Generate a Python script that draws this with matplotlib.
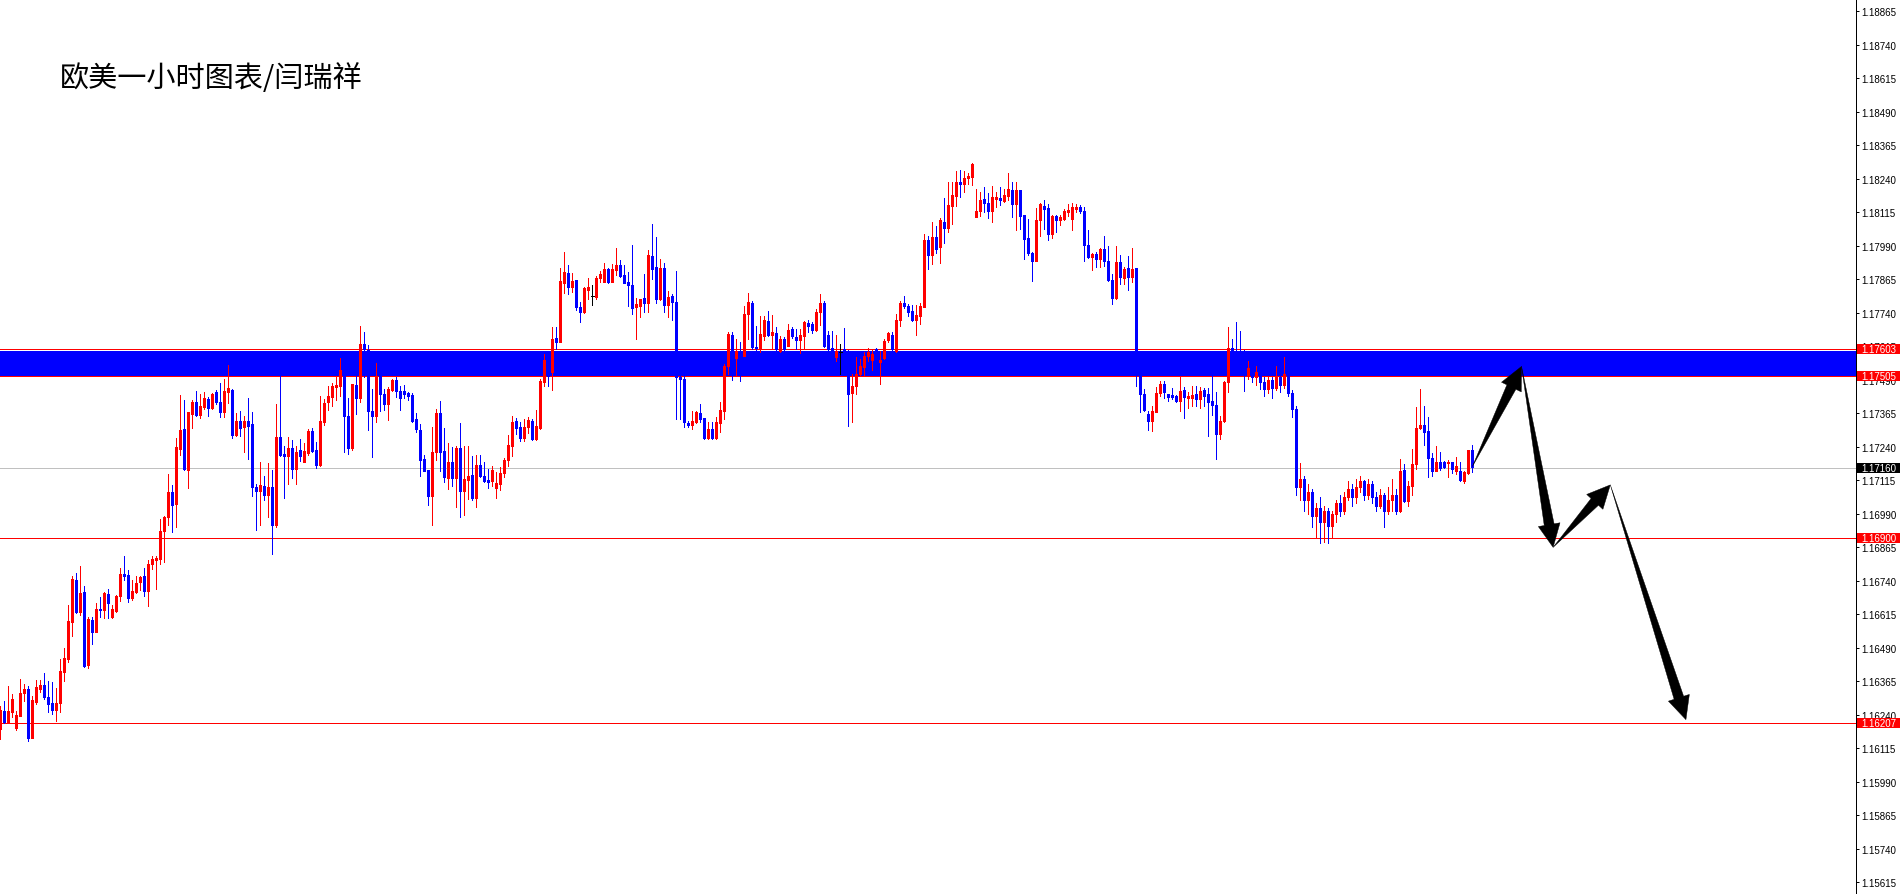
import numpy as np
import matplotlib
matplotlib.use("Agg")
import matplotlib.pyplot as plt
from matplotlib.patches import Polygon, Rectangle
from matplotlib.transforms import IdentityTransform

# EURUSD H1 candles, prices given in points (1e-5) above 1.16000
BASE = 1.16
open_pts = [
    186, 254, 213, 251, 191, 236, 320, 335, 152, 288,
    335, 350, 307, 283, 258, 283, 400, 447, 586, 742,
    624, 696, 425, 593, 549, 634, 631, 690, 605, 625,
    683, 764, 761, 675, 698, 736, 756, 702, 802, 818,
    820, 924, 976, 1069, 1026, 1231, 1306, 1154, 1362, 1405,
    1358, 1386, 1417, 1383, 1442, 1405, 1370, 1442, 1452, 1283,
    1334, 1314, 1334, 1324, 1088, 1075, 1092, 1061, 1088, 947,
    1277, 1212, 1206, 1235, 1156, 1227, 1184, 1215, 1297, 1227,
    1172, 1333, 1407, 1426, 1463, 1467, 1526, 1353, 1235, 1470,
    1421, 1623, 1600, 1374, 1355, 1504, 1436, 1399, 1451, 1488,
    1449, 1446, 1440, 1432, 1343, 1302, 1194, 1153, 1057, 1221,
    1365, 1222, 1121, 1181, 1121, 1235, 1075, 1116, 1134, 1047,
    1171, 1131, 1115, 1113, 1085, 1100, 1140, 1190, 1243, 1334,
    1312, 1272, 1312, 1336, 1268, 1309, 1482, 1563, 1517, 1644,
    1631, 1849, 1888, 1836, 1861, 1762, 1741, 1825, 1800, 1799,
    1869, 1855, 1902, 1855, 1900, 1917, 1880, 1855, 1843, 1759,
    1766, 1794, 1774, 1950, 1909, 1791, 1906, 1769, 1800, 1778,
    1498, 1492, 1328, 1322, 1333, 1364, 1345, 1271, 1305, 1271,
    1328, 1374, 1542, 1656, 1569, 1598, 1579, 1735, 1776, 1613,
    1608, 1654, 1710, 1656, 1664, 1595, 1641, 1616, 1679, 1650,
    1639, 1654, 1701, 1697, 1676, 1741, 1776, 1656, 1606, 1575,
    1591, 1604, 1598, 1440, 1465, 1511, 1536, 1576, 1564, 1604,
    1557, 1569, 1637, 1657, 1595, 1712, 1776, 1766, 1744, 1713,
    1728, 1762, 2012, 1955, 2021, 1983, 2077, 2055, 2139, 2176,
    2226, 2220, 2242, 2247, 2095, 2120, 2164, 2149, 2120, 2164,
    2167, 2157, 2176, 2197, 2145, 2197, 2104, 2017, 1961, 1934,
    2086, 2139, 2129, 2033, 2101, 2086, 2089, 2116, 2089, 2126,
    2133, 2120, 1992, 1946, 1958, 1940, 1977, 1934, 1861, 1794,
    1927, 1868, 1906, 1874, 1906, 1504, 1436, 1361, 1337, 1370,
    1438, 1473, 1436, 1432, 1430, 1411, 1452, 1420, 1420, 1436,
    1417, 1452, 1436, 1411, 1395, 1287, 1334, 1480, 1606, 1590,
    1585, 1570, 1504, 1532, 1500, 1520, 1480, 1455, 1490, 1460,
    1500, 1470, 1510, 1440, 1380, 1090, 1120, 1040, 1070, 980,
    1010, 960, 1000, 945, 990, 1030, 1000, 1050, 1080, 1050,
    1090, 1110, 1060, 1100, 1050, 1020, 1060, 1000, 1040, 1060,
    1001, 1153, 1038, 1094, 1175, 1308, 1320, 1297, 1196, 1150,
    1184, 1181, 1179, 1181, 1150, 1150, 1113, 1141, 1228,
]
high_pts = [
    273, 292, 348, 317, 254, 373, 354, 345, 310, 370,
    370, 395, 366, 363, 341, 447, 487, 649, 758, 770,
    795, 721, 605, 603, 656, 677, 698, 708, 650, 687,
    787, 833, 779, 743, 758, 758, 787, 817, 830, 833,
    970, 980, 1138, 1097, 1271, 1432, 1414, 1370, 1414, 1447,
    1436, 1442, 1425, 1440, 1451, 1477, 1492, 1544, 1455, 1364,
    1374, 1353, 1421, 1370, 1100, 1181, 1131, 1179, 1154, 1399,
    1505, 1243, 1277, 1264, 1241, 1268, 1252, 1306, 1309, 1256,
    1427, 1417, 1467, 1477, 1504, 1570, 1540, 1421, 1473, 1504,
    1691, 1669, 1620, 1455, 1552, 1510, 1455, 1461, 1492, 1501,
    1467, 1470, 1445, 1440, 1364, 1324, 1208, 1153, 1312, 1380,
    1409, 1309, 1252, 1239, 1241, 1328, 1241, 1241, 1204, 1210,
    1208, 1184, 1156, 1169, 1144, 1165, 1196, 1283, 1353, 1345,
    1330, 1343, 1349, 1343, 1378, 1492, 1585, 1570, 1685, 1685,
    1906, 1967, 1917, 1888, 1861, 1781, 1837, 1869, 1843, 1878,
    1896, 1925, 1906, 1921, 1980, 1936, 1919, 1890, 1992, 1793,
    1791, 1884, 1973, 2070, 2021, 1940, 1924, 1820, 1809, 1896,
    1507, 1504, 1336, 1371, 1374, 1399, 1345, 1333, 1333, 1349,
    1407, 1548, 1666, 1666, 1641, 1629, 1766, 1813, 1784, 1691,
    1728, 1728, 1747, 1731, 1685, 1651, 1647, 1697, 1685, 1679,
    1679, 1710, 1712, 1703, 1753, 1809, 1784, 1672, 1672, 1656,
    1623, 1682, 1600, 1511, 1573, 1567, 1594, 1606, 1600, 1606,
    1598, 1641, 1669, 1669, 1735, 1784, 1803, 1772, 1769, 1768,
    1776, 2033, 2024, 2079, 2062, 2093, 2166, 2228, 2228, 2269,
    2273, 2269, 2261, 2298, 2201, 2191, 2210, 2185, 2211, 2188,
    2207, 2201, 2261, 2226, 2228, 2197, 2104, 2089, 1965, 2129,
    2149, 2160, 2145, 2105, 2104, 2105, 2126, 2145, 2147, 2145,
    2141, 2133, 2048, 1962, 1967, 1981, 2024, 1989, 1884, 1987,
    1955, 1909, 1952, 1981, 1906, 1523, 1455, 1374, 1392, 1461,
    1486, 1486, 1436, 1457, 1432, 1504, 1461, 1442, 1465, 1465,
    1463, 1457, 1457, 1504, 1445, 1355, 1486, 1685, 1641, 1704,
    1672, 1600, 1561, 1545, 1540, 1530, 1500, 1505, 1500, 1540,
    1510, 1575, 1515, 1450, 1390, 1180, 1130, 1100, 1080, 1030,
    1050, 1020, 1010, 1000, 1040, 1060, 1070, 1110, 1100, 1120,
    1130, 1115, 1120, 1110, 1070, 1080, 1065, 1090, 1120, 1080,
    1194, 1175, 1113, 1231, 1386, 1455, 1393, 1349, 1216, 1241,
    1218, 1187, 1190, 1184, 1202, 1184, 1150, 1228, 1246,
]
low_pts = [
    149, 207, 211, 230, 184, 233, 292, 142, 152, 279,
    325, 300, 251, 242, 217, 248, 366, 435, 532, 619,
    613, 419, 414, 503, 547, 603, 601, 600, 600, 621,
    662, 743, 661, 669, 693, 706, 684, 644, 783, 709,
    802, 808, 947, 922, 941, 1208, 1154, 1085, 1310, 1353,
    1347, 1380, 1355, 1380, 1399, 1352, 1352, 1403, 1271, 1281,
    1281, 1221, 1194, 1054, 929, 947, 1041, 979, 839, 941,
    1206, 1048, 1100, 1121, 1100, 1185, 1181, 1210, 1218, 1160,
    1167, 1320, 1376, 1393, 1414, 1430, 1221, 1212, 1227, 1361,
    1405, 1501, 1302, 1202, 1330, 1374, 1376, 1340, 1449, 1424,
    1376, 1421, 1415, 1330, 1293, 1131, 1150, 1023, 948, 1191,
    1150, 1107, 1082, 1094, 1016, 976, 986, 1044, 1042, 1013,
    1125, 1109, 1085, 1094, 1047, 1078, 1125, 1169, 1204, 1287,
    1262, 1259, 1290, 1266, 1266, 1305, 1467, 1467, 1452, 1604,
    1629, 1812, 1809, 1818, 1751, 1706, 1738, 1791, 1769, 1791,
    1855, 1853, 1850, 1853, 1880, 1874, 1850, 1766, 1735, 1641,
    1722, 1741, 1743, 1865, 1774, 1787, 1741, 1722, 1713, 1343,
    1343, 1312, 1312, 1305, 1328, 1330, 1268, 1268, 1268, 1268,
    1293, 1343, 1511, 1490, 1507, 1486, 1579, 1641, 1604, 1598,
    1592, 1637, 1651, 1604, 1598, 1591, 1598, 1614, 1644, 1604,
    1588, 1604, 1666, 1664, 1672, 1695, 1613, 1598, 1594, 1560,
    1511, 1589, 1318, 1333, 1436, 1507, 1507, 1560, 1527, 1589,
    1473, 1567, 1629, 1600, 1594, 1691, 1756, 1728, 1710, 1657,
    1697, 1762, 1902, 1921, 1962, 1925, 1999, 2039, 2070, 2136,
    2172, 2191, 2220, 2217, 2095, 2101, 2114, 2093, 2077, 2133,
    2141, 2154, 2161, 2095, 2048, 2052, 1940, 1955, 1859, 1934,
    2024, 2052, 2012, 2017, 2039, 2067, 2086, 2101, 2048, 2114,
    2110, 1934, 1942, 1900, 1909, 1911, 1915, 1859, 1772, 1790,
    1846, 1846, 1825, 1853, 1467, 1368, 1374, 1303, 1299, 1368,
    1430, 1420, 1409, 1417, 1405, 1374, 1345, 1383, 1392, 1390,
    1383, 1392, 1281, 1358, 1193, 1268, 1330, 1442, 1560, 1560,
    1540, 1449, 1492, 1480, 1470, 1455, 1430, 1440, 1420, 1450,
    1445, 1460, 1430, 1350, 1060, 1040, 1000, 990, 940, 900,
    880, 885, 880, 900, 960, 980, 990, 1040, 1020, 1030,
    1070, 1040, 1045, 1030, 1000, 1010, 940, 990, 1000, 990,
    997, 1032, 1017, 1060, 1156, 1306, 1246, 1128, 1131, 1148,
    1153, 1159, 1125, 1140, 1138, 1113, 1104, 1138, 1146,
]
close_pts = [
    257, 211, 254, 298, 238, 320, 335, 152, 294, 344,
    350, 304, 279, 258, 285, 404, 450, 590, 746, 621,
    694, 422, 596, 549, 634, 630, 694, 656, 634, 683,
    764, 758, 675, 700, 731, 754, 702, 802, 820, 823,
    926, 976, 1069, 1023, 1237, 1302, 1156, 1368, 1405, 1358,
    1390, 1421, 1383, 1436, 1408, 1370, 1446, 1457, 1284, 1334,
    1309, 1334, 1318, 1090, 1075, 1097, 1061, 1088, 947, 1277,
    1210, 1206, 1235, 1156, 1218, 1204, 1222, 1299, 1222, 1171,
    1334, 1403, 1427, 1465, 1470, 1526, 1355, 1235, 1473, 1421,
    1623, 1604, 1374, 1355, 1504, 1436, 1399, 1455, 1490, 1449,
    1420, 1436, 1430, 1337, 1306, 1191, 1150, 1054, 1218, 1365,
    1221, 1128, 1181, 1121, 1233, 1075, 1119, 1131, 1048, 1171,
    1129, 1113, 1109, 1152, 1103, 1141, 1191, 1246, 1330, 1309,
    1272, 1312, 1339, 1268, 1315, 1486, 1563, 1504, 1641, 1629,
    1859, 1892, 1836, 1859, 1762, 1741, 1832, 1837, 1800, 1869,
    1884, 1902, 1855, 1902, 1917, 1878, 1850, 1844, 1757, 1772,
    1791, 1774, 1955, 1902, 1791, 1906, 1768, 1799, 1778, 1498,
    1492, 1333, 1320, 1336, 1368, 1343, 1271, 1305, 1271, 1333,
    1376, 1542, 1660, 1598, 1598, 1592, 1735, 1781, 1610, 1608,
    1660, 1712, 1656, 1669, 1604, 1641, 1604, 1675, 1651, 1639,
    1656, 1703, 1691, 1676, 1743, 1776, 1616, 1604, 1600, 1598,
    1591, 1598, 1436, 1465, 1511, 1539, 1576, 1591, 1585, 1598,
    1564, 1632, 1664, 1604, 1712, 1776, 1763, 1741, 1713, 1731,
    1763, 2012, 1955, 2021, 1977, 2086, 2055, 2141, 2179, 2226,
    2220, 2241, 2251, 2294, 2120, 2160, 2149, 2120, 2170, 2170,
    2161, 2179, 2201, 2145, 2197, 2101, 2014, 1961, 1934, 2086,
    2145, 2126, 2033, 2101, 2086, 2095, 2120, 2123, 2133, 2133,
    2120, 1992, 1946, 1958, 1940, 1977, 1934, 1861, 1794, 1927,
    1871, 1902, 1871, 1902, 1554, 1436, 1376, 1337, 1371, 1440,
    1473, 1442, 1424, 1426, 1411, 1446, 1424, 1427, 1432, 1417,
    1448, 1430, 1407, 1395, 1287, 1337, 1480, 1606, 1590, 1585,
    1570, 1545, 1532, 1500, 1520, 1480, 1455, 1490, 1460, 1500,
    1470, 1510, 1440, 1380, 1090, 1120, 1040, 1070, 980, 1010,
    960, 1000, 945, 990, 1030, 1000, 1050, 1080, 1050, 1090,
    1110, 1060, 1100, 1050, 1020, 1060, 1000, 1040, 1060, 1000,
    1150, 1038, 1094, 1175, 1309, 1320, 1293, 1196, 1150, 1181,
    1160, 1162, 1181, 1156, 1169, 1116, 1144, 1228, 1162,
]

# horizontal levels drawn on the chart
zone_top = 1.17603
zone_bottom = 1.17505
support_lines = [1.16900, 1.16207]
bid_price = 1.17160

# projected path (candle index, price)
path_x = [368.0, 380.3, 388.2, 402.5, 421.4]
path_y = [1.17165, 1.17539, 1.16864, 1.17097, 1.16221]

# right axis
tick_values = [1.15615, 1.15740, 1.15865, 1.15990, 1.16115, 1.16240, 1.16365,
               1.16490, 1.16615, 1.16740, 1.16865, 1.16990, 1.17115, 1.17240,
               1.17365, 1.17490, 1.17615, 1.17740, 1.17865, 1.17990, 1.18115,
               1.18240, 1.18365, 1.18490, 1.18615, 1.18740, 1.18865]
price_tags = [(1.17603, "1.17603", "#ff0000"), (1.17505, "1.17505", "#ff0000"),
              (1.17160, "1.17160", "#000000"), (1.16900, "1.16900", "#ff0000"),
              (1.16207, "1.16207", "#ff0000")]
title = "欧美一小时图表/闫瑞祥"

plt.rcParams['font.family'] = ['Liberation Sans', 'DejaVu Sans']

W, H = 1903, 895
AX_W = 1856
PX = 72 / 100  # one pixel in points
LBL = 7.0

fig = plt.figure(figsize=(W / 100, H / 100), dpi=100)
fig.patch.set_facecolor('white')
ax = fig.add_axes([0, 0, AX_W / W, 1])
ax.set_xlim(-0.0825, -0.0825 + AX_W / 4)
ax.set_ylim(1.155706, 1.189098)
one_px = (1.189098 - 1.155706) / H

o = BASE + np.array(open_pts) / 1e5
h = BASE + np.array(high_pts) / 1e5
l = BASE + np.array(low_pts) / 1e5
c = BASE + np.array(close_pts) / 1e5
x = np.arange(len(o))

# zone + levels
ax.axhspan(zone_bottom, zone_top - 1.5 * one_px, color='#0000ff', lw=0, zorder=1)
for lv in [zone_top, zone_bottom] + support_lines:
    ax.axhline(lv, color='#ff0000', lw=PX, antialiased=False, zorder=2)
ax.axhline(bid_price, color='#c0c0c0', lw=PX, antialiased=False, zorder=1.5)

# candles
up = c > o
dn = c < o
eq = c == o
for mask, col in [(up, '#ff0000'), (dn, '#0000ff'), (eq, '#000000')]:
    ax.vlines(x[mask], l[mask], h[mask], color=col, lw=PX, antialiased=False, zorder=4)
    bot = np.minimum(o[mask], c[mask])
    top = np.maximum(np.maximum(o[mask], c[mask]), bot + one_px)
    if col != '#000000':
        ax.vlines(x[mask], bot, top, color=col, lw=3 * PX, antialiased=False, zorder=4)
ax.hlines(o[eq], x[eq] - 0.4, x[eq] + 0.4, color='black', lw=PX, antialiased=False, zorder=4)

# axis styling
for s in ['left', 'top', 'bottom']:
    ax.spines[s].set_visible(False)
ax.spines['right'].set_linewidth(PX)
ax.spines['right'].set_color('black')
ax.set_xticks([])
ax.yaxis.tick_right()
ax.set_yticks(tick_values)
ax.set_yticklabels([f"{v:.5f}" for v in tick_values])
ax.tick_params(axis='y', direction='out', length=3 * PX, width=PX, pad=2 * PX,
               labelsize=LBL, colors='black')

ytr = ax.get_yaxis_transform()
for val, txt, col in price_tags:
    ax.add_patch(Rectangle((1.0 + 1 / AX_W, val - 5 * one_px), 43 / AX_W, 10 * one_px,
                           transform=ytr, fc=col, ec='none', clip_on=False, zorder=10))
    ax.text(1.0 + 5 / AX_W, val, txt, transform=ytr, color='white', fontsize=LBL,
            ha='left', va='center', clip_on=False, zorder=11)

fig.text(60 / W, 1 - 79 / H, title, fontsize=21, color='black', ha='left', va='center',
         family=['Noto Sans CJK SC', 'DejaVu Sans'])

# tapered arrows, built in pixel space
def fat_arrow(p0, p1, head_w=22, head_l=23, shaft_w=10):
    a = ax.transData.transform(p0)
    b = ax.transData.transform(p1)
    d = b - a
    u = d / np.hypot(*d)
    n = np.array([-u[1], u[0]])
    base = b - u * head_l
    pts = [a, base + n * shaft_w / 2, base + n * head_w / 2, b,
           base - n * head_w / 2, base - n * shaft_w / 2]
    fig.add_artist(Polygon(pts, closed=True, transform=IdentityTransform(),
                           fc='black', ec='black', lw=0.3, zorder=20))

for k in range(len(path_x) - 1):
    fat_arrow((path_x[k], path_y[k]), (path_x[k + 1], path_y[k + 1]))

fig.savefig('out.png', dpi=100, facecolor='white')
